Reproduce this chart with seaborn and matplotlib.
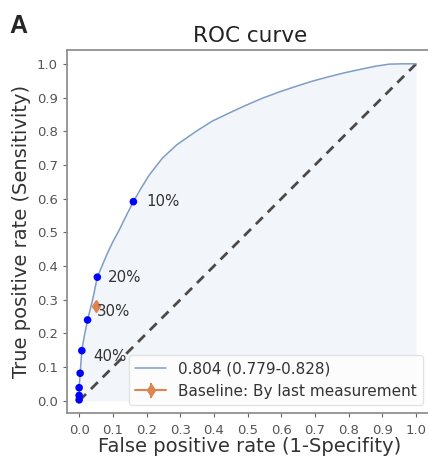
import numpy as np
import pandas as pd
import matplotlib
matplotlib.use('Agg')
import matplotlib.pyplot as plt
import seaborn as sns

# ROC curve
fpr = [0.0, 0.0, 0.0, 0.003, 0.008, 0.016, 0.025, 0.040, 0.054, 0.070, 0.084,
       0.100, 0.119, 0.140, 0.161, 0.182, 0.208, 0.247, 0.290, 0.346, 0.395,
       0.445, 0.495, 0.544, 0.595, 0.643, 0.690, 0.742, 0.790, 0.841, 0.880,
       0.920, 0.960, 1.0]
tpr = [0.0, 0.016, 0.039, 0.082, 0.149, 0.196, 0.240, 0.300, 0.367, 0.405, 0.438,
       0.472, 0.507, 0.550, 0.591, 0.628, 0.670, 0.720, 0.760, 0.799, 0.830,
       0.854, 0.877, 0.898, 0.917, 0.933, 0.948, 0.962, 0.974, 0.985, 0.993,
       0.999, 1.0, 1.0]

# threshold points (blue dots)
thr_fpr = [0.0, 0.0, 0.0, 0.003, 0.008, 0.025, 0.054, 0.161]
thr_tpr = [0.003, 0.016, 0.039, 0.082, 0.149, 0.240, 0.367, 0.591]

# labels for some of the dots
lab_text = ['10%', '20%', '30%', '40%']
lab_idx = [7, 6, 5, 4]
lab_dx = [0.037, 0.032, 0.028, 0.034]
lab_dy = [0.0, 0.0, 0.025, -0.018]

# baseline
base_fpr = [0.050]
base_tpr = [0.282]
base_yerr = [0.012]

auc_label = '0.804 (0.779-0.828)'
base_label = 'Baseline: By last measurement'

sns.set_style('ticks')
plt.rcParams['font.family'] = ['DejaVu Sans']

roc = pd.DataFrame({'fpr': fpr, 'tpr': tpr})
thr = pd.DataFrame({'fpr': thr_fpr, 'tpr': thr_tpr})

fig = plt.figure(figsize=(4.28, 4.58), dpi=100)
ax = fig.add_axes([67/428, 1 - 413/458, 366/428, 363/458])

ax.fill_between(fpr, tpr, 0, color='#4c72b0', alpha=0.07, lw=0)
ax.plot([0, 1], [0, 1], ls='--', color='#4a4a4a', lw=2, dashes=(3.5, 2.5))
sns.lineplot(data=roc, x='fpr', y='tpr', sort=False, estimator=None,
             color='#7f9cc4', lw=1.1, ax=ax, label=auc_label)
ax.errorbar(base_fpr, base_tpr, yerr=base_yerr, fmt='-d',
            color='#dd8452', ms=6.5, lw=1.5, label=base_label)
sns.scatterplot(data=thr, x='fpr', y='tpr', color='#0000ff', s=30,
                edgecolor='none', ax=ax, zorder=5)

for t, i, dx, dy in zip(lab_text, lab_idx, lab_dx, lab_dy):
    ax.text(thr_fpr[i] + dx, thr_tpr[i] + dy, t, fontsize=10.8,
            color='#333333', va='center', ha='left')

ax.set_xlim(-0.036, 1.05)
ax.set_ylim(-0.036, 1.041)
ax.set_xticks(np.arange(0, 1.01, 0.1))
ax.set_yticks(np.arange(0, 1.01, 0.1))
ax.tick_params(labelsize=9.5, colors='#666666', length=3, labelcolor='#555555')
ax.tick_params(axis='x', pad=5)
for s in ax.spines.values():
    s.set_color('#888888')
    s.set_linewidth(1.2)

ax.set_title('ROC curve', fontsize=15.5, color='#222222', pad=6)
ax.set_xlabel('False positive rate (1-Specifity)', fontsize=14,
              color='#333333', labelpad=0)
ax.set_ylabel('True positive rate (Sensitivity)', fontsize=14, color='#333333')

leg = ax.legend(loc='lower right', fontsize=11, frameon=True,
                bbox_to_anchor=(0.985, 0.01), borderaxespad=0.3)
leg.get_frame().set_edgecolor('#dddddd')
leg.get_frame().set_alpha(0.8)
for t in leg.get_texts():
    t.set_color('#333333')

fig.text(9/428, 1 - 26/458, 'A', fontsize=18, fontweight='bold',
         family='Liberation Sans', va='center', ha='left')

fig.savefig('out.png', dpi=100)
